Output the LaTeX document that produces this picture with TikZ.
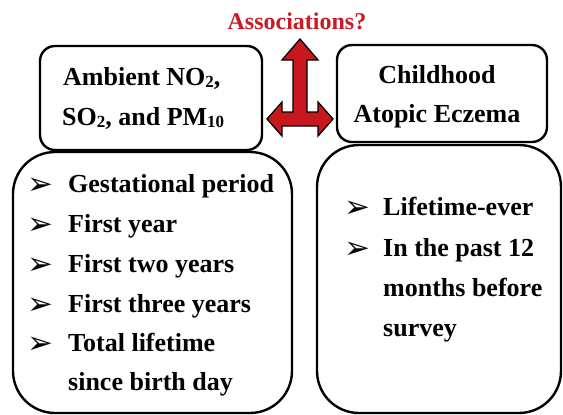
\documentclass[tikz,border=0pt]{standalone}
\usepackage{fontspec}
\setmainfont{Liberation Serif}
\newfontfamily\dingfont{DejaVu Sans}
\definecolor{assocred}{RGB}{200,28,36}
\definecolor{arrowred}{RGB}{200,24,30}
\newcommand{\lowsub}[1]{\raisebox{-2.5pt}{\fontsize{17}{17}\selectfont #1}}
\begin{document}
\begin{tikzpicture}[x=1pt,y=-1pt,
  box/.style={draw=black,line width=2.4pt,rounded corners=#1,inner sep=0pt},
  ttl/.style={font=\fontsize{26}{30}\selectfont\bfseries,inner sep=0pt},
  itm/.style={font=\fontsize{26}{30}\selectfont\bfseries,inner sep=0pt,anchor=base west},
  blt/.style={font=\dingfont\fontsize{31}{32}\selectfont,inner sep=0pt,anchor=base}]
\useasboundingbox (0,0) rectangle (563,415);
% boxes
\node[box=15pt,minimum width=222pt,minimum height=104pt] (expo) at (151,98) {};
\node[box=15pt,minimum width=210pt,minimum height=97pt] (outc) at (442,93.5) {};
\node[box=42pt,minimum width=279pt,minimum height=261pt] (periods) at (152.5,282.5) {};
\node[box=42pt,minimum width=244pt,minimum height=268pt] (defs) at (439,279) {};
% associations
\node[font=\fontsize{24}{28}\selectfont\bfseries,text=assocred,inner sep=0pt,anchor=base] (assoc) at (297,29) {Associations?};
% arrow
\draw[fill=arrowred,draw=black,line width=1.3pt,line join=miter]
 (300,39) -- (318,60) -- (307,60) -- (307,112) -- (318,112) -- (318,102) -- (333,119)
 -- (318,136) -- (318,126) -- (282,126) -- (282,136) -- (267,119) -- (282,102)
 -- (282,112) -- (293,112) -- (293,60) -- (282,60) -- cycle;
% exposure box text
\node[ttl,anchor=base west] (e1) at (63,85) {Ambient NO\lowsub{2},};
\node[ttl,anchor=base west] (e2) at (62,125) {SO\lowsub{2}, and PM\lowsub{10}};
% outcome box text
\node[ttl,anchor=base] (o1) at (437,83) {Childhood};
\node[ttl,anchor=base] (o2) at (437,122) {Atopic Eczema};
% left list
\node[blt] (b1) at (40,194) {➢};
\node[itm] (p1) at (68,192) {Gestational period};
\node[blt] (b2) at (40,234) {➢};
\node[itm] (p2) at (68,232) {First year};
\node[blt] (b3) at (40,274) {➢};
\node[itm] (p3) at (68,272) {First two years};
\node[blt] (b4) at (40,314) {➢};
\node[itm] (p4) at (68,312) {First three years};
\node[blt] (b5) at (40,353) {➢};
\node[itm] (p5) at (68,351) {Total lifetime};
\node[itm] (p6) at (68,390) {since birth day};
% right list
\node[blt] (c1) at (357,217) {➢};
\node[itm] (d1) at (383,215) {Lifetime-ever};
\node[blt] (c2) at (357,258) {➢};
\node[itm] (d2) at (383,256) {In the past 12};
\node[itm] (d3) at (383,296) {months before};
\node[itm] (d4) at (383,336) {survey};
\end{tikzpicture}
\end{document}
